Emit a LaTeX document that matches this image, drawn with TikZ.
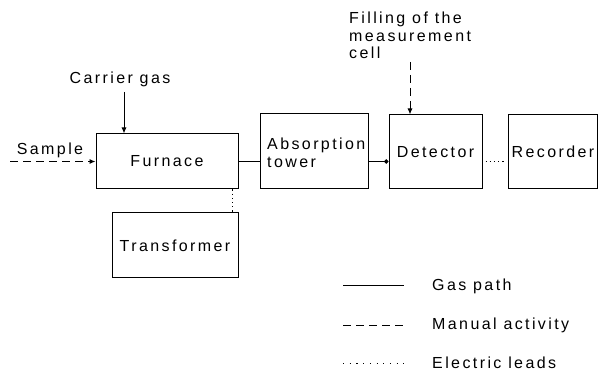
\documentclass[tikz,border=0pt]{standalone}
\usepackage{fontspec}
\setmainfont{Liberation Sans}[LetterSpace=15]
\usetikzlibrary{arrows.meta}
\begin{document}
\begin{tikzpicture}[x=1pt,y=-1pt,
  every node/.style={font=\fontsize{16}{17.5}\selectfont, inner sep=0pt},
  blk/.style={draw, line width=1pt, rectangle},
  gas/.style={line width=1pt},
  manual/.style={line width=1pt, dash pattern=on 8pt off 5pt},
  elec/.style={line width=1pt, dash pattern=on 1.2pt off 3pt},
  elecleg/.style={line width=1pt, dash pattern=on 1.2pt off 5.5pt},
  tip/.style={-{Latex[length=6pt,width=5pt]}},
  lbl/.style={anchor=west}]
\useasboundingbox (0,0) rectangle (600,374);

% boxes
\node[blk, minimum width=142pt, minimum height=55pt] (furnace) at (167,161.5) {Furnace};
\node[blk, minimum width=108pt, minimum height=75pt] (tower) at (314,151.5) {};
\node[align=left, anchor=west] (towert) at (267,153) {Absorption\\tower};
\node[blk, minimum width=93pt, minimum height=74pt] (detector) at (435.5,152) {Detector};
\node[blk, minimum width=89pt, minimum height=74pt] (recorder) at (553,152) {Recorder};
\node[blk, minimum width=126pt, minimum height=65pt] (transformer) at (175,245.5) {Transformer};

% labels
\node (carrier) at (120,79) {Carrier gas};
\node (sample) at (50,150) {Sample};
\node[align=left, anchor=north west] (filling) at (349,12) {Filling of the\\measurement\\cell};

% connectors
\coordinate (cg) at (124,92);
\draw[gas, tip] (cg) -- (cg |- furnace.north);
\coordinate (sa) at (10,161.5);
\draw[manual, tip] (sa) -- (furnace.west);
\draw[gas] (furnace.east) -- (furnace.east -| tower.west);
\draw[gas, -{Circle[length=4.5pt]}] (furnace.east -| tower.east) -- (furnace.east -| detector.west);
\draw[elec, shorten >=3pt, shorten <=3pt] (furnace.east -| detector.east) -- (furnace.east -| recorder.west);
\coordinate (fi) at (410,62);
\draw[manual, tip] (fi) -- (fi |- detector.north);
\coordinate (ft) at (232,0);
\draw[elec] (ft |- furnace.south) -- (ft |- transformer.north);

% legend
\coordinate (g1) at (343,286); \coordinate (g2) at (404,286);
\coordinate (m1) at (343,325); \coordinate (m2) at (404,325);
\coordinate (e1) at (343,363); \coordinate (e2) at (404,363);
\draw[gas] (g1) -- (g2);
\draw[manual] (m1) -- (m2);
\draw[elecleg] (e1) -- (e2);
\node[lbl] (lg) at (432,286) {Gas path};
\node[lbl] (lm) at (432,325) {Manual activity};
\node[lbl] (le) at (432,363) {Electric leads};
\end{tikzpicture}
\end{document}
